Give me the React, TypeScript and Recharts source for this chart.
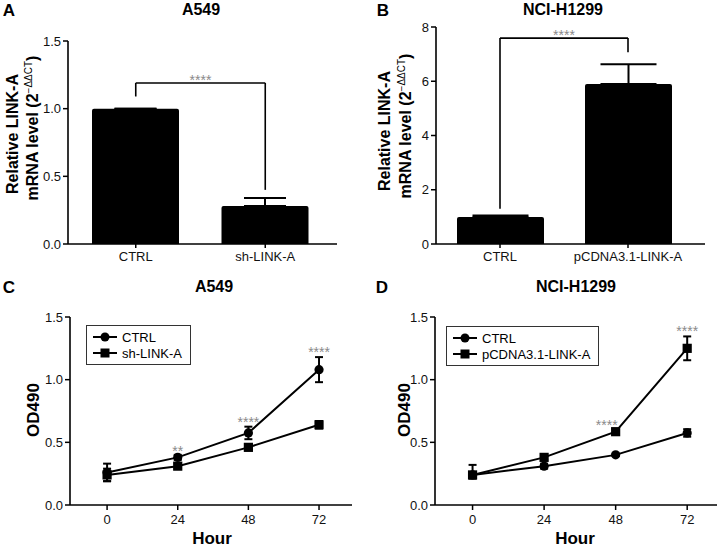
import React from "react"
import {
  BarChart,
  Bar,
  LineChart,
  Line,
  XAxis,
  YAxis,
  ErrorBar,
  ReferenceLine,
  ReferenceDot,
} from "recharts"

// ---- Panel A: A549 qPCR ----
const groupsA = ["CTRL", "sh-LINK-A"]
const valuesA = [1.0, 0.28]
const errorsA = [0, 0.06]
const bracketA = [1.19, 1.09, 0.4] // bracket level, left foot, right foot
const yTicksA = [0, 0.5, 1.0, 1.5]

// ---- Panel B: NCI-H1299 qPCR ----
const groupsB = ["CTRL", "pCDNA3.1-LINK-A"]
const valuesB = [1.0, 5.9]
const errorsB = [0.05, 0.73]
const bracketB = [7.59, 1.3, 7.07]
const yTicksB = [0, 2, 4, 6, 8]

// ---- Panels C/D: growth curves ----
const hours = [0, 24, 48, 72]
const hourTicks = [0, 24, 48, 72]
const odTicks = [0, 0.5, 1.0, 1.5]

// errors are [below, above]
const ctrlC = [0.26, 0.38, 0.575, 1.08]
const ctrlErrC = [[0.07, 0.07], [0.02, 0.02], [0.05, 0.05], [0.1, 0.1]]
const shC = [0.24, 0.31, 0.46, 0.64]
const shErrC = [[0.05, 0.05], [0.02, 0.02], [0.02, 0.02], [0.03, 0.03]]
const starHoursC = [24, 48, 72]
const starLevelsC = [0.433, 0.66, 1.22]
const starTextC = ["**", "****", "****"]

const ctrlD = [0.24, 0.31, 0.4, 0.575]
const ctrlErrD = [[0.02, 0.02], [0.02, 0.02], [0.01, 0.01], [0.03, 0.03]]
const oeD = [0.24, 0.38, 0.585, 1.25]
const oeErrD = [[0.03, 0.08], [0.02, 0.02], [0.02, 0.02], [0.095, 0.095]]
const starHoursD = [45, 72]
const starLevelsD = [0.64, 1.386]
const starTextD = ["****", "****"]

const FONT = '"Liberation Sans", Arial, Helvetica, sans-serif'
const STAR = "#8a8a8a"

const barRows = (groups: string[], vals: number[], errs: number[]) =>
  groups.map((g, i) => ({ group: g, value: vals[i], err: [0, errs[i]] }))

const lineRows = (a: number[], aErr: number[][], b: number[], bErr: number[][]) =>
  hours.map((h, i) => ({ hour: h, ctrl: a[i], ctrlErr: aErr[i], treat: b[i], treatErr: bErr[i] }))

const tickStyle = { fill: "#111", fontSize: 13, fontFamily: FONT }
const axisLine = { stroke: "#000", strokeWidth: 1.6 }

const CircleDot = (p: any) => <circle cx={p.cx} cy={p.cy} r={4.6} fill="#000" stroke="none" />
const SquareDot = (p: any) => <rect x={p.cx - 4.6} y={p.cy - 4.6} width={9.2} height={9.2} fill="#000" />

function Text(props: {
  x: number
  y: number
  size: number
  bold?: boolean
  rotate?: boolean
  children: React.ReactNode
}) {
  return (
    <div
      style={{
        position: "absolute",
        left: props.x,
        top: props.y,
        transform: `translate(-50%, -50%)${props.rotate ? " rotate(-90deg)" : ""}`,
        fontSize: props.size,
        fontWeight: props.bold ? "bold" : "normal",
        whiteSpace: "nowrap",
        lineHeight: 1,
        fontFamily: FONT,
        color: "#000",
      }}
    >
      {props.children}
    </div>
  )
}

function MrnaLabel({ x, y }: { x: number; y: number }) {
  return (
    <Text x={x} y={y} size={16} bold rotate>
      mRNA level (2
      <sup style={{ fontSize: 10, fontWeight: "normal", verticalAlign: "6px" }}>−ΔΔCT</sup>)
    </Text>
  )
}

function LegendBox(props: { left: number; top: number; second: string }) {
  const row = (label: string, square: boolean) => (
    <div style={{ display: "flex", alignItems: "center", height: 16 }}>
      <svg width={26} height={12} style={{ marginRight: 4 }}>
        <line x1={1} y1={6} x2={25} y2={6} stroke="#000" strokeWidth={2} />
        {square ? <rect x={8.5} y={1.5} width={9} height={9} fill="#000" /> : <circle cx={13} cy={6} r={4.5} fill="#000" />}
      </svg>
      <span>{label}</span>
    </div>
  )
  return (
    <div
      style={{
        position: "absolute",
        left: props.left,
        top: props.top,
        boxSizing: "border-box",
        border: "1px solid #333",
        padding: "3px 8px 3px 5px",
        fontSize: 13,
        fontFamily: FONT,
        whiteSpace: "nowrap",
        background: "#fff",
      }}
    >
      {row("CTRL", false)}
      {row(props.second, true)}
    </div>
  )
}

function BarPanel(props: {
  groups: string[]
  values: number[]
  errors: number[]
  bracket: number[]
  ticks: number[]
  domainMax: number
  decimals: number
  marginLeft: number
  marginRight: number
  marginTop: number
  padding: { left: number; right: number }
  capWidth: number
}) {
  const data = barRows(props.groups, props.values, props.errors)
  const [level, footL, footR] = props.bracket
  const [gL, gR] = props.groups
  return (
    <BarChart
      width={props.marginLeft + 30 + 269 + props.marginRight}
      height={270}
      data={data}
      margin={{ top: props.marginTop, right: props.marginRight, bottom: 6, left: props.marginLeft }}
    >
      <XAxis
        dataKey="group"
        axisLine={axisLine}
        tickLine={{ stroke: "#000", strokeWidth: 1.5 }}
        tickSize={4}
        tickMargin={4}
        height={20}
        padding={props.padding}
        tick={tickStyle}
        interval={0}
      />
      <YAxis
        domain={[0, props.domainMax]}
        ticks={props.ticks}
        width={30}
        axisLine={axisLine}
        tickLine={{ stroke: "#000", strokeWidth: 1.5 }}
        tickSize={5}
        tickMargin={2}
        tick={tickStyle}
        tickFormatter={(v: number) => v.toFixed(props.decimals)}
        allowDataOverflow
      />
      <Bar dataKey="value" fill="#000" barSize={87} radius={[2, 2, 0, 0]} isAnimationActive={false}>
        <ErrorBar dataKey="err" width={props.capWidth} stroke="#000" strokeWidth={2} direction="y" />
      </Bar>
      <ReferenceLine
        segment={[{ x: gL, y: level }, { x: gR, y: level }]}
        stroke="#000"
        strokeWidth={1.6}
        label={{ value: "****", position: "top", offset: -2, fill: STAR, fontSize: 14, fontFamily: FONT }}
      />
      <ReferenceLine segment={[{ x: gL, y: footL }, { x: gL, y: level }]} stroke="#000" strokeWidth={1.6} />
      <ReferenceLine segment={[{ x: gR, y: footR }, { x: gR, y: level }]} stroke="#000" strokeWidth={1.6} />
    </BarChart>
  )
}

function LinePanel(props: {
  rows: any[]
  starHours: number[]
  starLevels: number[]
  starText: string[]
  marginLeft: number
  marginRight: number
  xDomain: [number, number]
}) {
  return (
    <LineChart
      width={props.marginLeft + 30 + 282 + props.marginRight}
      height={277}
      data={props.rows}
      margin={{ top: 47, right: props.marginRight, bottom: 22, left: props.marginLeft }}
    >
      <XAxis
        dataKey="hour"
        type="number"
        domain={props.xDomain}
        ticks={hourTicks}
        allowDataOverflow
        axisLine={axisLine}
        tickLine={{ stroke: "#000", strokeWidth: 1.5 }}
        tickSize={5}
        tickMargin={5}
        height={20}
        tick={tickStyle}
      />
      <YAxis
        domain={[0, 1.5]}
        ticks={odTicks}
        width={30}
        axisLine={axisLine}
        tickLine={{ stroke: "#000", strokeWidth: 1.5 }}
        tickSize={5}
        tickMargin={2}
        tick={tickStyle}
        tickFormatter={(v: number) => v.toFixed(1)}
      />
      <Line dataKey="treat" type="linear" stroke="#000" strokeWidth={2} dot={SquareDot} isAnimationActive={false}>
        <ErrorBar dataKey="treatErr" width={4} stroke="#000" strokeWidth={2} direction="y" />
      </Line>
      <Line dataKey="ctrl" type="linear" stroke="#000" strokeWidth={2} dot={CircleDot} isAnimationActive={false}>
        <ErrorBar dataKey="ctrlErr" width={4} stroke="#000" strokeWidth={2} direction="y" />
      </Line>
      {props.starHours.map((h, i) => (
        <ReferenceDot
          key={i}
          x={h}
          y={props.starLevels[i]}
          r={0}
          fill="none"
          stroke="none"
          label={{ value: props.starText[i], position: "center", fill: STAR, fontSize: 14, fontFamily: FONT }}
        />
      ))}
    </LineChart>
  )
}

export default function App() {
  const rowsC = lineRows(ctrlC, ctrlErrC, shC, shErrC)
  const rowsD = lineRows(ctrlD, ctrlErrD, oeD, oeErrD)
  return (
    <div
      style={{
        position: "absolute",
        left: 0,
        top: 0,
        width: 719,
        height: 547,
        background: "#fff",
        fontFamily: FONT,
        overflow: "hidden",
      }}
    >
      {/* Panel A */}
      <div style={{ position: "absolute", left: 0, top: 0 }}>
        <BarPanel
          groups={groupsA}
          values={valuesA}
          errors={errorsA}
          bracket={bracketA}
          ticks={yTicksA}
          domainMax={1.5}
          decimals={1}
          marginLeft={38}
          marginRight={23}
          marginTop={41}
          padding={{ left: 3, right: 7 }}
          capWidth={21}
        />
      </div>
      <Text x={9} y={10} size={17} bold>A</Text>
      <Text x={201} y={10} size={16} bold>A549</Text>
      <Text x={13} y={134} size={16} bold rotate>Relative LINK-A</Text>
      <MrnaLabel x={32} y={128} />

      {/* Panel B */}
      <div style={{ position: "absolute", left: 360, top: 0 }}>
        <BarPanel
          groups={groupsB}
          values={valuesB}
          errors={errorsB}
          bracket={bracketB}
          ticks={yTicksB}
          domainMax={8}
          decimals={0}
          marginLeft={46}
          marginRight={14}
          marginTop={27}
          padding={{ left: 0, right: 13 }}
          capWidth={28}
        />
      </div>
      <Text x={383} y={10} size={17} bold>B</Text>
      <Text x={563} y={10} size={16} bold>NCI-H1299</Text>
      <Text x={385} y={131} size={16} bold rotate>Relative LINK-A</Text>
      <MrnaLabel x={405} y={126} />

      {/* Panel C */}
      <div style={{ position: "absolute", left: 0, top: 270 }}>
        <LinePanel
          rows={rowsC}
          starHours={starHoursC}
          starLevels={starLevelsC}
          starText={starTextC}
          marginLeft={40}
          marginRight={8}
          xDomain={[-12.6, 83.2]}
        />
      </div>
      <LegendBox left={86} top={325} second="sh-LINK-A" />
      <Text x={9} y={287} size={17} bold>C</Text>
      <Text x={214} y={287} size={16} bold>A549</Text>
      <Text x={33} y={410} size={17} bold rotate>OD490</Text>
      <Text x={212} y={538} size={17} bold>Hour</Text>

      {/* Panel D */}
      <div style={{ position: "absolute", left: 360, top: 270 }}>
        <LinePanel
          rows={rowsD}
          starHours={starHoursD}
          starLevels={starLevelsD}
          starText={starTextD}
          marginLeft={45}
          marginRight={7}
          xDomain={[-12.6, 82]}
        />
      </div>
      <LegendBox left={446} top={326} second="pCDNA3.1-LINK-A" />
      <Text x={382} y={287} size={17} bold>D</Text>
      <Text x={576} y={287} size={16} bold>NCI-H1299</Text>
      <Text x={404} y={410} size={17} bold rotate>OD490</Text>
      <Text x={575} y={538} size={17} bold>Hour</Text>
    </div>
  )
}
